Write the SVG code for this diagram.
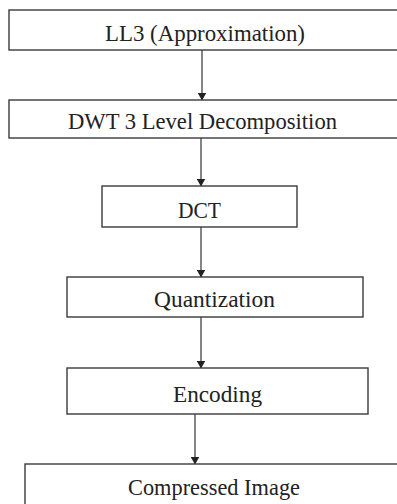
<svg xmlns="http://www.w3.org/2000/svg" width="397" height="504" viewBox="0 0 397 504">
<style>
.box{fill:#fff;stroke:#3a3a3a;stroke-width:1.4}
.lbl{font-size:23px;fill:#222;text-anchor:middle}
.con{stroke:#333;stroke-width:1.2;fill:none;marker-end:url(#ah)}
</style>
<defs>
<marker id="ah" markerWidth="8" markerHeight="9" refX="7.5" refY="4.5" orient="auto" markerUnits="userSpaceOnUse">
<path d="M0,0 L8,4.5 L0,9 Z" fill="#222"/>
</marker>
</defs>
<rect width="397" height="504" fill="#fff"/>
<g id="connectors">
<line class="con" x1="202" y1="50" x2="202" y2="100"/>
<line class="con" x1="201" y1="138" x2="201" y2="186"/>
<line class="con" x1="201" y1="227" x2="201" y2="277"/>
<line class="con" x1="201" y1="317" x2="201" y2="368"/>
<line class="con" x1="195" y1="414" x2="195" y2="464"/>
</g>
<g font-family="Liberation Serif, serif">
<g id="n1"><rect class="box" x="9" y="10" width="390" height="40"/><text class="lbl" x="205" y="41" textLength="200" lengthAdjust="spacingAndGlyphs">LL3 (Approximation)</text></g>
<g id="n2"><rect class="box" x="9" y="100" width="390" height="38"/><text class="lbl" x="202.5" y="129" textLength="269" lengthAdjust="spacingAndGlyphs">DWT 3 Level Decomposition</text></g>
<g id="n3"><rect class="box" x="102" y="186" width="195" height="41"/><text class="lbl" x="199.5" y="218" textLength="43" lengthAdjust="spacingAndGlyphs">DCT</text></g>
<g id="n4"><rect class="box" x="67" y="277" width="296" height="40"/><text class="lbl" x="214.5" y="307" textLength="121" lengthAdjust="spacingAndGlyphs">Quantization</text></g>
<g id="n5"><rect class="box" x="67" y="368" width="301" height="46"/><text class="lbl" x="217.5" y="402" textLength="89" lengthAdjust="spacingAndGlyphs">Encoding</text></g>
<g id="n6"><rect class="box" x="25" y="464" width="374" height="50"/><text class="lbl" x="214" y="495" textLength="172" lengthAdjust="spacingAndGlyphs">Compressed Image</text></g>
</g>
</svg>
